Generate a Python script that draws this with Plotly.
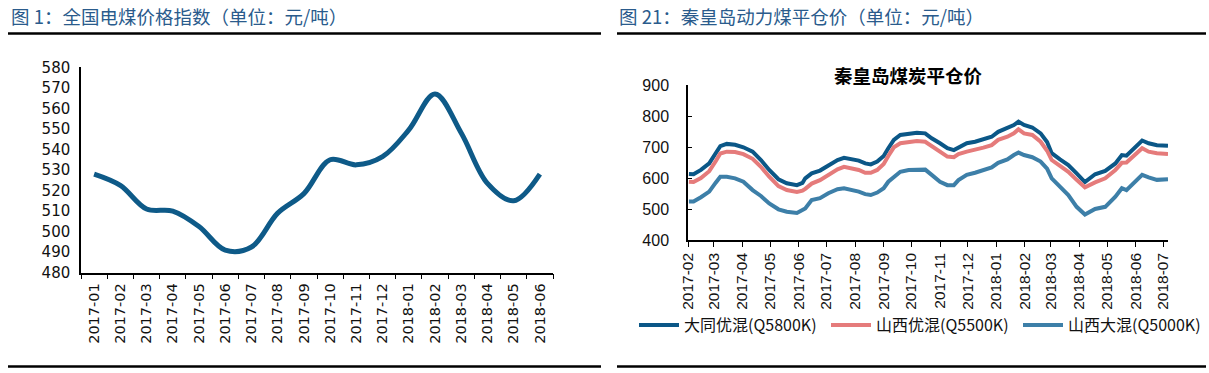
import plotly.graph_objects as go

# ---- Left chart: 全国电煤价格指数 ----
left_months = ["2017-01", "2017-02", "2017-03", "2017-04", "2017-05", "2017-06",
               "2017-07", "2017-08", "2017-09", "2017-10", "2017-11", "2017-12",
               "2018-01", "2018-02", "2018-03", "2018-04", "2018-05", "2018-06"]
left_index = [528, 522.5, 511, 510, 502.5, 491, 492.5, 509, 518.5, 535,
              532.5, 536.5, 549.5, 567, 548, 523.5, 515, 528]

# ---- Right chart: 秦皇岛动力煤平仓价 ----
right_dates = [
    "2017-02-02", "2017-02-07", "2017-02-15", "2017-02-24", "2017-03-03", "2017-03-08",
    "2017-03-15", "2017-03-24", "2017-04-02", "2017-04-12", "2017-04-21", "2017-04-30",
    "2017-05-10", "2017-05-19", "2017-05-30", "2017-06-05",
    "2017-06-08", "2017-06-15", "2017-06-24", "2017-07-03", "2017-07-13", "2017-07-20",
    "2017-07-29", "2017-08-05", "2017-08-12", "2017-08-18", "2017-08-25", "2017-09-01",
    "2017-09-06", "2017-09-12", "2017-09-19", "2017-09-28", "2017-10-07", "2017-10-16",
    "2017-10-23", "2017-11-01", "2017-11-09", "2017-11-16", "2017-11-21", "2017-11-30",
    "2017-12-09", "2017-12-18", "2017-12-27", "2018-01-03", "2018-01-13", "2018-01-20",
    "2018-01-25", "2018-01-31", "2018-02-09", "2018-02-18", "2018-02-25",
    "2018-03-02", "2018-03-11", "2018-03-20", "2018-03-29", "2018-04-07", "2018-04-18",
    "2018-04-29", "2018-05-10", "2018-05-17", "2018-05-22", "2018-05-30", "2018-06-08",
    "2018-06-15", "2018-06-24", "2018-07-06"]
datong_q5800 = [
    613, 612, 626, 647, 680, 703, 710, 707, 699, 685, 658, 626, 596, 583, 577, 584,
    599, 615, 624, 639, 658, 665, 660, 656, 647, 644, 653, 671, 696, 723, 739, 742, 746, 744,
    728, 712, 696, 690, 699, 712, 717, 725, 733, 749, 760, 771, 782, 771, 763, 744, 716,
    680, 660, 642, 615, 587, 612, 623, 647, 674, 672, 696, 721, 712, 706, 704]
shanxi_q5500 = [
    588, 587, 600, 622, 654, 679, 685, 684, 677, 662, 636, 604, 574, 561, 555, 559,
    565, 582, 593, 610, 628, 636, 631, 626, 617, 617, 626, 645, 671, 699, 712, 716, 719, 717,
    703, 685, 669, 667, 677, 685, 690, 698, 706, 723, 733, 744, 757, 744, 739, 717, 688,
    658, 639, 620, 594, 570, 586, 599, 626, 649, 650, 671, 696, 685, 680, 677]
shanxi_q5000 = [
    524, 524, 538, 556, 585, 604, 604, 599, 588, 561, 542, 518, 499, 491, 487, 497,
    502, 529, 535, 551, 564, 567, 561, 556, 548, 545, 553, 567, 588, 603, 620, 626, 628, 627,
    610, 588, 577, 577, 593, 610, 617, 624, 634, 649, 660, 674, 682, 674, 667, 653, 630,
    599, 572, 545, 507, 482, 500, 507, 540, 567, 561, 585, 610, 602, 594, 596]
series_names = ["大同优混(Q5800K)", "山西优混(Q5500K)", "山西大混(Q5000K)"]
series_colors = ["#0B5787", "#E57B7B", "#3D7FA8"]

W, H = 1209, 373
fig = go.Figure()

fig.add_trace(go.Scatter(
    x=left_months, y=left_index, mode="lines", xaxis="x", yaxis="y",
    line=dict(color="#0E5A88", width=5, shape="spline", smoothing=1.0),
    showlegend=False, hoverinfo="x+y"))

for name, vals, col in zip(series_names, [datong_q5800, shanxi_q5500, shanxi_q5000], series_colors):
    fig.add_trace(go.Scatter(
        x=right_dates, y=vals, mode="lines", xaxis="x2", yaxis="y2", name=name,
        line=dict(color=col, width=4)))

def px(x):
    return x / W

def py(y):
    return 1 - y / H

tick_font_l = dict(family="DejaVu Sans", size=14.5, color="#111111")
tick_font_r = dict(family="Liberation Sans, Arial", size=15.5, color="#111111")

fig.update_layout(
    width=W, height=H, margin=dict(l=0, r=0, t=0, b=0, autoexpand=False),
    paper_bgcolor="white", plot_bgcolor="white",
    xaxis=dict(domain=[px(81), px(553)], type="category", range=[-0.5, 17.5],
               showline=True, linecolor="black", linewidth=1.5,
               ticks="outside", ticklen=5, tickcolor="black", tickwidth=1.2,
               tickson="boundaries", tickangle=-90, tickfont=tick_font_l,
               ticklabelstandoff=3,
               showgrid=False, zeroline=False, anchor="y", automargin=False),
    yaxis=dict(domain=[py(272.7), py(67.3)], range=[480, 580], dtick=10,
               showline=True, linecolor="black", linewidth=1.5,
               ticks="", tickfont=dict(family="DejaVu Sans", size=15, color="#111111"),
               showgrid=False, zeroline=False, anchor="x", ticklabelstandoff=6,
               automargin=False),
    xaxis2=dict(domain=[px(688), px(1168)], type="date",
                range=["2017-02-01", "2018-07-06"], dtick="M1", tick0="2017-02-01",
                tickformat="%Y-%m", showline=True, linecolor="black", linewidth=1.5,
                ticks="outside", ticklen=5, tickcolor="black", tickwidth=1.2,
                tickangle=-90, tickfont=tick_font_r,
                showgrid=False, zeroline=False, anchor="y2", automargin=False),
    yaxis2=dict(domain=[py(240), py(85)], range=[400, 900], dtick=100,
                showline=True, linecolor="black", linewidth=1.5,
                ticks="inside", ticklen=4, tickcolor="black",
                tickfont=dict(family="Liberation Sans, Arial", size=16, color="#111111"),
                showgrid=False, zeroline=False, anchor="x2", ticklabelstandoff=14,
                automargin=False),
    legend=dict(orientation="h", x=px(634), xanchor="left", y=py(325), yanchor="middle",
                font=dict(family="Noto Sans CJK SC, Liberation Sans", size=16, color="#111111"),
                bgcolor="rgba(0,0,0,0)", itemwidth=40, tracegroupgap=0,
                entrywidth=137, entrywidthmode="pixels"),
)

title_font = dict(family="Noto Sans CJK SC", size=18.5, color="#2A5B8C")
fig.add_annotation(text="图 1：全国电煤价格指数（单位：元/吨）", x=px(9), y=py(16),
                   xref="paper", yref="paper", xanchor="left", yanchor="middle",
                   showarrow=False, font=title_font)
fig.add_annotation(text="图 21：秦皇岛动力煤平仓价（单位：元/吨）", x=px(617), y=py(16),
                   xref="paper", yref="paper", xanchor="left", yanchor="middle",
                   showarrow=False, font=title_font)
fig.add_annotation(text="<b>秦皇岛煤炭平仓价</b>", x=px(908), y=py(75),
                   xref="paper", yref="paper", xanchor="center", yanchor="middle",
                   showarrow=False,
                   font=dict(family="Noto Sans CJK SC", size=18.5, color="black"))

for x0, x1 in [(8, 601), (617, 1206)]:
    for yy in [33.5, 366.5]:
        fig.add_shape(type="line", xref="paper", yref="paper",
                      x0=px(x0), x1=px(x1), y0=py(yy), y1=py(yy),
                      line=dict(color="black", width=2.5))

fig.write_html("out.html", config={"displayModeBar": False},
               post_script="document.body.style.margin='0';document.body.style.padding='0';")
